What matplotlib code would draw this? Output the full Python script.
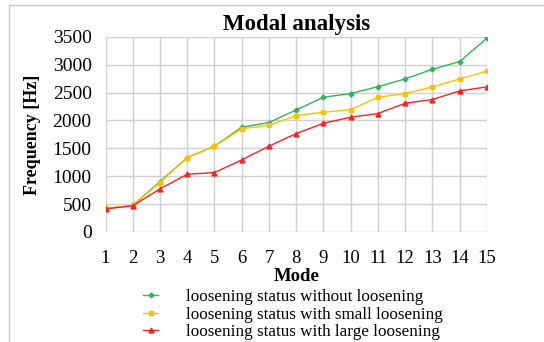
import matplotlib
matplotlib.use("Agg")
import matplotlib.pyplot as plt
from matplotlib.patches import Rectangle

plt.rcParams["font.family"] = ["Liberation Serif", "DejaVu Serif"]

modes = list(range(1, 16))
# Frecuencias por modo [Hz]
sin_aflojar = [420, 475, 903, 1334, 1538, 1879, 1962, 2190, 2417, 2483, 2608, 2746, 2920, 3057, 3477]
aflojado_leve = [420, 475, 885, 1334, 1538, 1850, 1915, 2088, 2148, 2196, 2417, 2483, 2603, 2746, 2884]
aflojado_fuerte = [413, 467, 772, 1035, 1065, 1292, 1538, 1765, 1950, 2059, 2124, 2310, 2375, 2531, 2603]

labels = ["loosening status without loosening",
          "loosening status with small loosening",
          "loosening status with large loosening"]

fig = plt.figure(figsize=(5.44, 3.42), dpi=100)
ax = fig.add_axes([0.194, 0.322, 0.701, 0.570])

# marco exterior
fig.patches.append(Rectangle((9 / 544, -0.1), 1.2, 1 - 5 / 342 + 0.1, transform=fig.transFigure,
                             fill=False, edgecolor="#c8c8c8", linewidth=1.0))

ax.plot(modes, sin_aflojar, color="#33b35a", marker="D", markersize=2.5, linewidth=1.0, label=labels[0])
ax.plot(modes, aflojado_leve, color="#ffc000", marker="s", markersize=3.5, linewidth=1.0, label=labels[1])
ax.plot(modes, aflojado_fuerte, color="#ff2020", marker="^", markersize=3.5, linewidth=1.0, label=labels[2])

ax.set_xlim(1, 15)
ax.set_ylim(0, 3500)
ax.set_xticks(modes)
ax.set_yticks(range(0, 3501, 500))
ax.grid(True, color="#d0d0d0", linewidth=1.0)
ax.set_axisbelow(True)
for s in ax.spines.values():
    s.set_visible(False)
ax.tick_params(axis="x", length=0, labelsize=13.5, pad=13)
ax.tick_params(axis="y", length=0, labelsize=14, pad=10)

ax.set_title("Modal analysis", fontsize=16.5, fontweight="bold", pad=5)
ax.set_xlabel("Mode", fontsize=13.5, fontweight="bold", labelpad=1)
ax.set_ylabel("Frequency [Hz]", fontsize=13, fontweight="bold", labelpad=8)

ax.legend(loc="upper left", bbox_to_anchor=(0.076, -0.25), frameon=False, fontsize=12.3,
          handlelength=0.9, handletextpad=1.6, labelspacing=0.08, borderpad=0)

fig.savefig("out.png", dpi=100)
